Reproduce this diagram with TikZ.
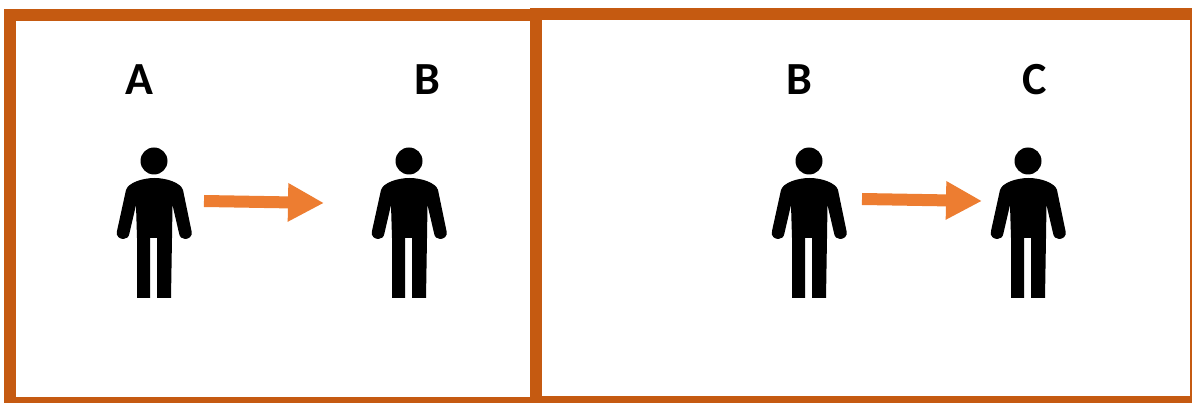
\documentclass[tikz,border=0pt]{standalone}
\usepackage{fontspec}
\setmainfont{Carlito}
\usetikzlibrary{arrows.meta}
\definecolor{framecol}{HTML}{C55A11}
\definecolor{arrowcol}{HTML}{ED7D31}
\tikzset{
  x=1pt,y=-1pt,
  framebox/.style={draw=framecol,line width=12pt,line join=miter},
  lbl/.style={font=\bfseries\fontsize{46}{46}\selectfont,text=black,inner sep=0pt,anchor=center},
  flow/.style={draw=arrowcol,line width=12pt,-{Triangle[length=36pt,width=36pt]},shorten >=0pt},
  person/.pic={
    % origin = head centre
    \fill[black] (0,0) circle (13.5);
    % one outline: shoulders, right arm, torso, legs, left arm
    \fill[black] (-28,29) .. controls (-26,22) and (-12,17) .. (0.5,17)
       .. controls (13,17) and (27,22) .. (29,29)
       -- (37.5,70) .. controls (39,76) and (34,78) .. (31,78)
       .. controls (28,78) and (25.5,76) .. (25,72)
       -- (18.5,44) -- (18,77) -- (17,137) -- (3,137) -- (3,77) -- (-4,77) -- (-4,137) -- (-17,137) -- (-17,77) -- (-18,44)
       -- (-24.5,72) .. controls (-25,76) and (-27.5,78) .. (-30.5,78)
       .. controls (-33.5,78) and (-38.5,76) .. (-37,70) -- cycle;
  }
}
\begin{document}
\begin{tikzpicture}
\useasboundingbox (0,0) rectangle (1192,403);
\clip (0,0) rectangle (1192,403);
\fill[white] (0,0) rectangle (1192,403);
\draw[framebox] (10,15) rectangle (536,403);
\draw[framebox] (536,14) rectangle (1196,402);
\node[lbl] (la) at (139,80) {A};
\node[lbl] (lb1) at (427,80) {B};
\node[lbl] (lb2) at (799,80) {B};
\node[lbl] (lc) at (1035,80) {C};
\pic at (154,161) {person};
\pic at (409,161) {person};
\pic at (809,161) {person};
\pic at (1028,161) {person};
\coordinate (a1) at (204,201);
\coordinate (a2) at (324,203);
\coordinate (b1) at (862,199);
\coordinate (b2) at (982,201);
\draw[flow] (a1) -- (a2);
\draw[flow] (b1) -- (b2);
\end{tikzpicture}
\end{document}
